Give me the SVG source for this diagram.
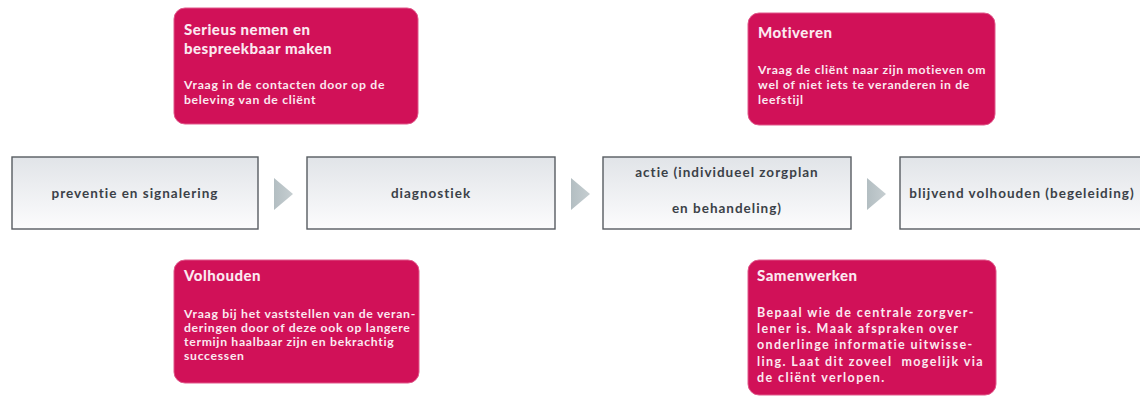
<svg xmlns="http://www.w3.org/2000/svg" width="1140" height="399" viewBox="0 0 1140 399">
<defs>
<linearGradient id="gbox" x1="0" y1="0" x2="0" y2="1">
<stop offset="0" stop-color="#e1e4e8"/>
<stop offset="1" stop-color="#fcfcfd"/>
</linearGradient>
<linearGradient id="garr" x1="0" y1="0" x2="1" y2="0">
<stop offset="0" stop-color="#b3bec2"/>
<stop offset="1" stop-color="#c6ced1"/>
</linearGradient>
<style>
.step{fill:url(#gbox);stroke:#575c61;stroke-width:1.4}
.steptxt{font-family:Lato,"Open Sans",sans-serif;font-weight:700;font-size:13.5px;fill:#3b4148;letter-spacing:1px;text-anchor:middle}
.pink{fill:#d11158;stroke:#e0588a;stroke-width:1}
.ttl{font-family:Lato,"Open Sans",sans-serif;font-weight:900;font-size:15px;fill:#fbe9f0;letter-spacing:0.5px}
.body{font-family:Lato,"Open Sans",sans-serif;font-weight:700;font-size:12.2px;fill:#fbe9f0;letter-spacing:0.7px}
.body2{font-family:Lato,"Open Sans",sans-serif;font-weight:700;font-size:12.5px;fill:#fbe9f0;letter-spacing:1.4px}
.arr{fill:url(#garr)}
</style>
</defs>
<rect width="1140" height="399" fill="#ffffff"/>

<g id="connectors">
<polygon class="arr" points="274,178 293,194 274,210"/>
<polygon class="arr" points="571,178 590,194 571,210"/>
<polygon class="arr" points="867,178 886,194 867,210"/>
</g>

<g id="step1">
<rect class="step" x="12" y="157" width="246" height="72"/>
<text class="steptxt" x="135" y="198">preventie en signalering</text>
</g>
<g id="step2">
<rect class="step" x="307" y="157" width="248" height="72"/>
<text class="steptxt" x="431" y="198">diagnostiek</text>
</g>
<g id="step3">
<rect class="step" x="603" y="157" width="248" height="72"/>
<text class="steptxt" x="727" y="177">actie (individueel zorgplan</text>
<text class="steptxt" x="727" y="213">en behandeling)</text>
</g>
<g id="step4">
<rect class="step" x="900" y="157" width="250" height="72"/>
<text class="steptxt" x="1022" y="198">blijvend volhouden (begeleiding)</text>
</g>

<g id="serieus">
<rect class="pink" x="174" y="8" width="244" height="116" rx="11"/>
<text class="ttl" x="184" y="35">Serieus nemen en</text>
<text class="ttl" x="184" y="54">bespreekbaar maken</text>
<text class="body" x="184" y="89">Vraag in de contacten door op de</text>
<text class="body" x="184" y="104">beleving van de cliënt</text>
</g>

<g id="motiveren">
<rect class="pink" x="748" y="13" width="247" height="112" rx="11"/>
<text class="ttl" x="758" y="38">Motiveren</text>
<text class="body" x="758" y="74">Vraag de cliënt naar zijn motieven om</text>
<text class="body" x="758" y="89">wel of niet iets te veranderen in de</text>
<text class="body" x="758" y="104">leefstijl</text>
</g>

<g id="volhouden">
<rect class="pink" x="174" y="260" width="245" height="123" rx="11"/>
<text class="ttl" x="184" y="281">Volhouden</text>
<text class="body" x="184" y="318">Vraag bij het vaststellen van de veran-</text>
<text class="body" x="184" y="332">deringen door of deze ook op langere</text>
<text class="body" x="184" y="346">termijn haalbaar zijn en bekrachtig</text>
<text class="body" x="184" y="360">successen</text>
</g>

<g id="samenwerken">
<rect class="pink" x="748" y="260" width="248" height="135" rx="11"/>
<text class="ttl" x="757" y="281">Samenwerken</text>
<text class="body2" x="757" y="317">Bepaal wie de centrale zorgver-</text>
<text class="body2" x="757" y="333">lener is. Maak afspraken over</text>
<text class="body2" x="757" y="349">onderlinge informatie uitwisse-</text>
<text class="body2" x="757" y="366" xml:space="preserve">ling. Laat dit zoveel  mogelijk via</text>
<text class="body2" x="757" y="382">de cliënt verlopen.</text>
</g>
</svg>
